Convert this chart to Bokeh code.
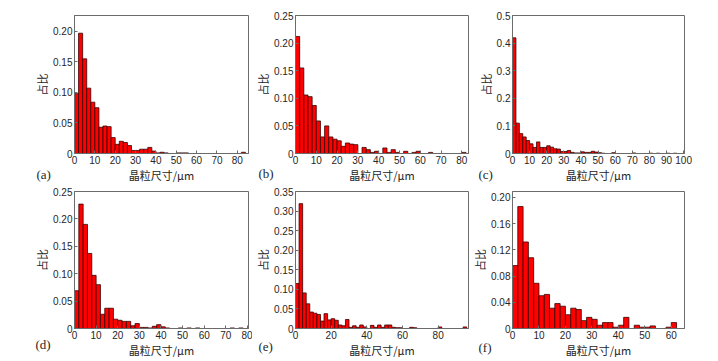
import numpy as np
from bokeh.plotting import figure
from bokeh.layouts import gridplot
from bokeh.models import Range1d, FixedTicker, Title, ColumnDataSource
from bokeh.embed import file_html
from bokeh.resources import INLINE

# ---------------- data ----------------
BIN_WIDTH = 2  # grain-size bin width, um; bins start at 0

share_a = [0.098, 0.197, 0.155, 0.107, 0.084, 0.075, 0.043, 0.045, 0.044, 0.026,
           0.015, 0.020, 0.018, 0.013, 0.005, 0.005, 0.007, 0.007, 0.010, 0.004,
           0.001, 0.002, 0.001, 0, 0, 0.001, 0.001, 0.001, 0, 0,
           0, 0, 0, 0, 0, 0, 0, 0, 0, 0,
           0, 0.002]
share_b = [0.212, 0.155, 0.106, 0.103, 0.087, 0.059, 0.030, 0.050, 0.030, 0.026,
           0.023, 0.013, 0.019, 0.017, 0.016, 0, 0.011, 0.007, 0.002, 0.004,
           0, 0.010, 0.002, 0.007, 0.002, 0, 0.004, 0, 0.002, 0.004,
           0, 0, 0.002, 0, 0, 0, 0, 0, 0, 0,
           0.002]
share_c = [0.419, 0.110, 0.072, 0.060, 0.047, 0.035, 0.022, 0.042, 0.022, 0.022,
           0.028, 0.023, 0.017, 0.016, 0.007, 0.007, 0.011, 0.004, 0.002, 0.002,
           0.006, 0.004, 0.004, 0.008, 0.005, 0.003, 0.001, 0, 0, 0.003,
           0, 0, 0, 0, 0, 0.002, 0, 0, 0, 0,
           0.001, 0, 0.001, 0, 0, 0.001, 0, 0.001, 0, 0]
share_d = [0.069, 0.227, 0.190, 0.137, 0.097, 0.080, 0.026, 0.037, 0.037, 0.017,
           0.015, 0.013, 0.013, 0.005, 0.009, 0.002, 0.002, 0.001, 0.004, 0.007,
           0.003, 0.001, 0, 0, 0.001, 0, 0.001, 0, 0.001, 0,
           0, 0, 0, 0, 0, 0, 0.001, 0, 0.001, 0]
share_e = [0.115, 0.319, 0.091, 0.063, 0.042, 0.039, 0.036, 0.019, 0.038, 0.022,
           0.025, 0.021, 0.009, 0.007, 0.023, 0.003, 0.007, 0.003, 0.009, 0.004,
           0, 0.008, 0.003, 0.009, 0.003, 0.009, 0.009, 0.003, 0.002, 0.002,
           0, 0, 0.003, 0.002, 0, 0, 0, 0, 0, 0,
           0.004, 0, 0, 0, 0, 0, 0, 0.004]
share_f = [0.096, 0.186, 0.132, 0.108, 0.069, 0.050, 0.052, 0.031, 0.038, 0.034,
           0.021, 0.031, 0.029, 0.012, 0.017, 0.014, 0.005, 0.009, 0.009, 0.002,
           0.005, 0.017, 0, 0.005, 0.002, 0.002, 0.004, 0, 0, 0.002,
           0.009]

panel_letters = ["(a)", "(b)", "(c)", "(d)", "(e)", "(f)"]
x_title = "晶粒尺寸/μm"
y_title = "占比"

x_ticks_a = [0, 10, 20, 30, 40, 50, 60, 70, 80]
x_ticks_b = [0, 10, 20, 30, 40, 50, 60, 70, 80]
x_ticks_c = [0, 10, 20, 30, 40, 50, 60, 70, 80, 90, 100]
x_ticks_d = [0, 10, 20, 30, 40, 50, 60, 70, 80]
x_ticks_e = [0, 20, 40, 60, 80]
x_ticks_f = [0, 10, 20, 30, 40, 50, 60]

y_ticks_a = [0, 0.05, 0.10, 0.15, 0.20]
y_labels_a = ["0", "0.05", "0.10", "0.15", "0.20"]
y_ticks_b = [0, 0.05, 0.10, 0.15, 0.20, 0.25]
y_labels_b = ["0", "0.05", "0.10", "0.15", "0.20", "0.25"]
y_ticks_c = [0, 0.1, 0.2, 0.3, 0.4, 0.5]
y_labels_c = ["0", "0.1", "0.2", "0.3", "0.4", "0.5"]
y_ticks_d = [0, 0.05, 0.10, 0.15, 0.20, 0.25]
y_labels_d = ["0", "0.05", "0.10", "0.15", "0.20", "0.25"]
y_ticks_e = [0, 0.05, 0.10, 0.15, 0.20, 0.25, 0.30, 0.35]
y_labels_e = ["0", "0.05", "0.10", "0.15", "0.20", "0.25", "0.30", "0.35"]
y_ticks_f = [0, 0.04, 0.08, 0.12, 0.16, 0.20]
y_labels_f = ["0", "0.04", "0.08", "0.12", "0.16", "0.20"]

x_end = [85.5, 83.2, 100.5, 80.5, 97.0, 65.0]
y_end = [0.226, 0.25, 0.5, 0.25, 0.35, 0.209]

# ---------------- style / layout ----------------
BAR_FILL = "#ff0000"
BAR_LINE = "#3a0000"
FRAME = "#6b6b6b"
TEXT = "#262626"
TICK_FONT = "Liberation Sans"
CJK_FONT = "Noto Sans CJK SC"
LETTER_FONT = "Liberation Serif"

cols = [dict(left=74, frame=174, right=4),
        dict(left=42, frame=174, right=1),
        dict(left=42, frame=173, right=30)]
rows = [dict(top=15, frame=140, bottom=30),
        dict(top=6, frame=139, bottom=30)]

AXIS_H = 29.5          # estimated height of the x-axis panel (ticks + label)
LETTER_H = 15.0        # estimated text-box height of the panel letters
letter_pos = [(-38, 18.5), (-37, 17), (-34, 18),
              (-39, 13.5), (-37, 15), (-34, 16.5)]   # (x from frame left, centre below frame)

shares = [share_a, share_b, share_c, share_d, share_e, share_f]
xticks = [x_ticks_a, x_ticks_b, x_ticks_c, x_ticks_d, x_ticks_e, x_ticks_f]
yticks = [y_ticks_a, y_ticks_b, y_ticks_c, y_ticks_d, y_ticks_e, y_ticks_f]
ylabels = [y_labels_a, y_labels_b, y_labels_c, y_labels_d, y_labels_e, y_labels_f]


def make_panel(i):
    r, c = divmod(i, 3)
    cs, rs = cols[c], rows[r]
    p = figure(width=cs["left"] + cs["frame"] + cs["right"],
               height=rs["top"] + rs["frame"] + rs["bottom"],
               x_range=Range1d(0, x_end[i]), y_range=Range1d(0, y_end[i]),
               output_backend="svg", toolbar_location=None, title=None,
               min_border_left=cs["left"], min_border_right=cs["right"],
               min_border_top=rs["top"], min_border_bottom=rs["bottom"])
    p.background_fill_color = "white"
    p.border_fill_color = "white"
    p.outline_line_color = FRAME
    p.outline_line_width = 1
    p.grid.visible = False

    vals = np.array(shares[i], dtype=float)
    centers = (np.arange(len(vals)) + 0.5) * BIN_WIDTH
    keep = vals > 0
    src = ColumnDataSource(dict(x=centers[keep], top=vals[keep]))
    p.vbar(x="x", top="top", bottom=0, width=BIN_WIDTH, source=src,
           fill_color=BAR_FILL, line_color=BAR_LINE, line_width=0.8)

    for ax in (p.xaxis[0], p.yaxis[0]):
        ax.axis_line_color = FRAME
        ax.major_tick_line_color = FRAME
        ax.major_tick_in = 3
        ax.major_tick_out = 0
        ax.minor_tick_line_color = None
        ax.major_label_text_font = TICK_FONT
        ax.major_label_text_font_size = "10px"
        ax.major_label_text_color = TEXT
        ax.major_label_standoff = 2
        ax.axis_label_text_font = CJK_FONT
        ax.axis_label_text_font_size = "11px"
        ax.axis_label_text_font_style = "normal"
        ax.axis_label_text_color = TEXT

    p.xaxis.ticker = FixedTicker(ticks=xticks[i])
    p.xaxis.major_label_overrides = {t: str(t) for t in xticks[i]}
    p.xaxis.axis_label = x_title
    p.xaxis.axis_label_standoff = 0
    p.yaxis.ticker = FixedTicker(ticks=yticks[i])
    p.yaxis.major_label_overrides = dict(zip(yticks[i], ylabels[i]))
    p.yaxis.axis_label = y_title
    p.yaxis.axis_label_standoff = 0

    lx, ly = letter_pos[i]
    standoff = 2 * (ly - LETTER_H / 2 - AXIS_H)
    p.add_layout(Title(text=panel_letters[i], align="left", offset=lx,
                       vertical_align="top", standoff=standoff,
                       text_font=LETTER_FONT, text_font_size="13px",
                       text_font_style="normal", text_color=TEXT), "below")
    return p


panels = [make_panel(i) for i in range(6)]
grid = gridplot([panels[0:3], panels[3:6]], toolbar_location=None)

open("out.html", "w").write(file_html(grid, INLINE))
